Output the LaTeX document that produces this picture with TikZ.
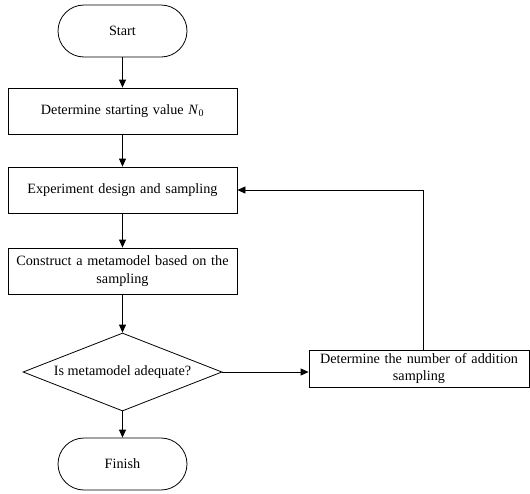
\documentclass[tikz,border=0pt]{standalone}
\usepackage{fontspec}
\setmainfont{Liberation Serif}
\usetikzlibrary{shapes.geometric,arrows.meta}
\begin{document}
\begin{tikzpicture}[x=1pt,y=-1pt,
  every node/.style={font=\fontsize{14.2}{17.5}\selectfont, line width=0.8pt},
  terminal/.style={draw, rounded corners=26pt, minimum width=129pt, minimum height=52pt, inner sep=0pt},
  stepbox/.style={draw, minimum width=229pt, minimum height=46pt, inner sep=2pt, align=center, text width=222pt},
  sidebox/.style={draw, minimum width=220pt, minimum height=37pt, inner sep=1pt, align=center, text width=214pt},
  decision/.style={draw, diamond, aspect=2.55, minimum width=199pt, minimum height=78pt, inner sep=0pt},
  flow/.style={line width=0.8pt, -{Triangle[length=8pt,width=7pt]}}]
\useasboundingbox (0,0) rectangle (530,493);
\node[terminal] (start) at (122.5,31) {Start};
\node[stepbox] (init) at (122.5,111) {Determine starting value \textit{N}\textsubscript{0}};
\node[stepbox] (doe) at (122.5,190) {Experiment design and sampling};
\node[stepbox] (meta) at (122.5,271) {Construct a metamodel based on the\\sampling};
\node[decision] (check) at (122.5,372) {Is metamodel adequate?};
\node[terminal] (finish) at (122.5,464) {Finish};
\node[sidebox] (add) at (419,368.5) {Determine the number of addition\\sampling};
\coordinate (corner) at (423,190);
\draw[flow] (start) -- (init);
\draw[flow] (init) -- (doe);
\draw[flow] (doe) -- (meta);
\draw[flow] (meta) -- (check);
\draw[flow] (check) -- (finish);
\draw[flow] (check.east) -- (check.east -| add.west);
\draw[flow] (add.north -| corner) -- (corner) -- (doe.east);
\end{tikzpicture}
\end{document}
